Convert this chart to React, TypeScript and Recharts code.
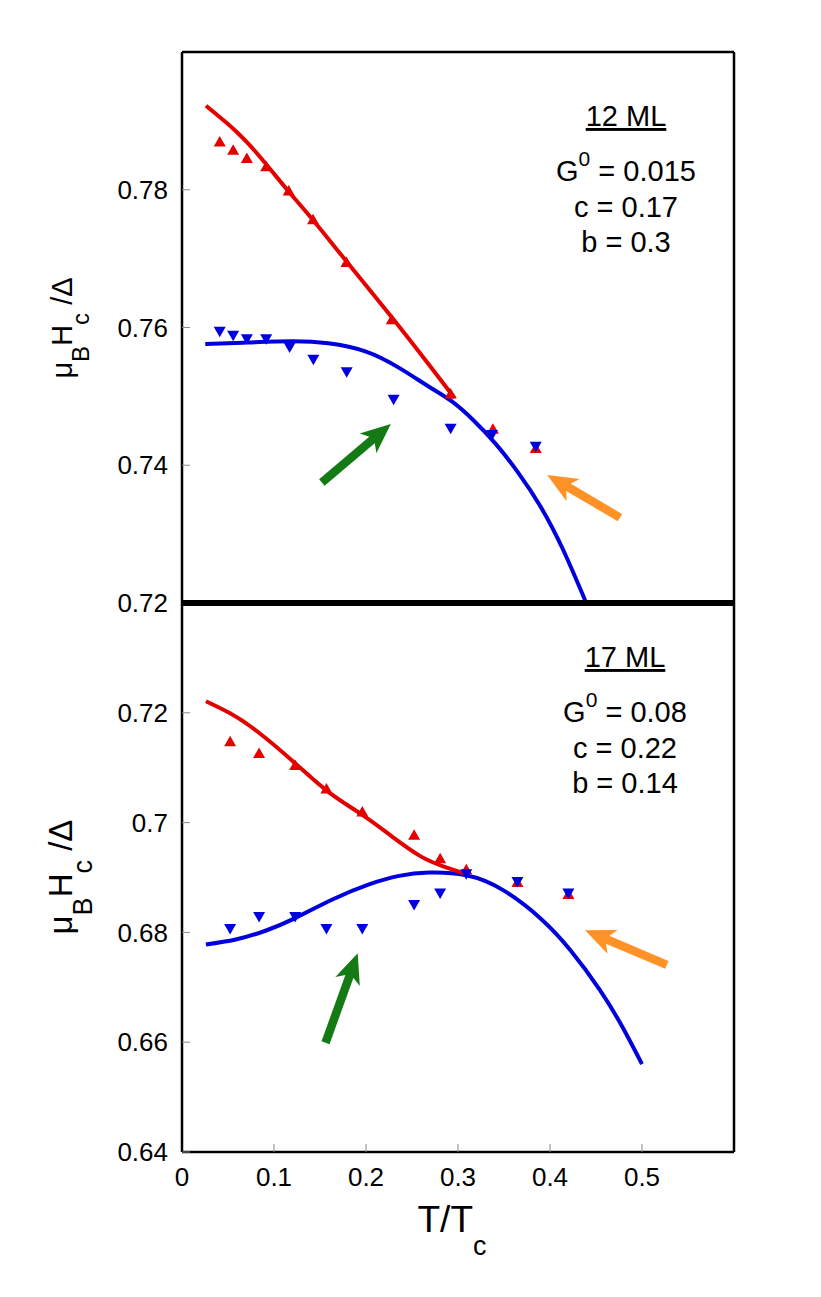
import { ComposedChart, Line, Scatter, XAxis, YAxis, ReferenceLine } from 'recharts';

const FONT = '"Liberation Sans", Arial, Helvetica, sans-serif';
const RED = '#e50000';
const BLUE = '#0000dc';
const GREEN = '#147a14';
const ORANGE = '#ff9226';

// x = T/Tc, y = muB Hc / Delta
// ---- 12 ML ----
const red12: number[][] = [
  [0.041, 0.787], [0.0556, 0.7858], [0.0705, 0.7846], [0.0915, 0.7834], [0.116, 0.7799],
  [0.1424, 0.7757], [0.1788, 0.7695], [0.228, 0.7612], [0.292, 0.7504], [0.338, 0.7453], [0.3845, 0.7425],
];
const blue12: number[][] = [
  [0.041, 0.7594], [0.0556, 0.7588], [0.0705, 0.7583], [0.0915, 0.7583], [0.117, 0.7571],
  [0.1428, 0.7553], [0.179, 0.7535], [0.23, 0.7495], [0.292, 0.7453], [0.337, 0.7444], [0.3845, 0.7427],
];
const redFit12: number[][] = [
  [0.026, 0.7922], [0.0503, 0.7895], [0.0705, 0.7869], [0.0915, 0.7837], [0.115, 0.7799],
  [0.143, 0.7755], [0.18, 0.7694], [0.228, 0.7615], [0.2685, 0.7546], [0.296, 0.7498],
];
const blueFit12: number[][] = [
  [0.0253, 0.7576], [0.0665, 0.7578], [0.119, 0.758], [0.159, 0.7577], [0.2, 0.7565],
  [0.2365, 0.7541], [0.2685, 0.7514], [0.293, 0.7493], [0.317, 0.7465], [0.341, 0.7431],
  [0.365, 0.739], [0.3897, 0.734], [0.414, 0.7278], [0.4394, 0.72],
];
// [tail t, tail y, tip t, tip y]
const arrows12 = [
  { color: GREEN, seg: [0.152, 0.7375, 0.227, 0.746] },
  { color: ORANGE, seg: [0.476, 0.7324, 0.397, 0.7386] },
];

// ---- 17 ML ----
const red17: number[][] = [
  [0.0523, 0.7148], [0.0838, 0.7127], [0.123, 0.7105], [0.157, 0.7062], [0.196, 0.702],
  [0.2523, 0.6978], [0.2806, 0.6935], [0.309, 0.6915], [0.3646, 0.6892], [0.42, 0.687],
];
const blue17: number[][] = [
  [0.0523, 0.6806], [0.0838, 0.6828], [0.123, 0.6828], [0.157, 0.6806], [0.196, 0.6806],
  [0.2523, 0.685], [0.2806, 0.6871], [0.309, 0.6906], [0.3646, 0.6892], [0.42, 0.6871],
];
const redFit17: number[][] = [
  [0.026, 0.7221], [0.0523, 0.7199], [0.0826, 0.7165], [0.123, 0.7108], [0.159, 0.7056],
  [0.196, 0.7014], [0.228, 0.6975], [0.26, 0.6938], [0.2846, 0.692], [0.309, 0.6906],
];
const blueFit17: number[][] = [
  [0.026, 0.6778], [0.0584, 0.6787], [0.0907, 0.6803], [0.123, 0.6826], [0.1634, 0.686],
  [0.204, 0.6888], [0.236, 0.6903], [0.2685, 0.6909], [0.309, 0.6904], [0.349, 0.6877],
  [0.39, 0.6825], [0.422, 0.6768], [0.4543, 0.6695], [0.4786, 0.6628], [0.5, 0.656],
];
const arrows17 = [
  { color: GREEN, seg: [0.156, 0.6599, 0.191, 0.6762] },
  { color: ORANGE, seg: [0.527, 0.6741, 0.438, 0.6804] },
];

const xTicks = [0, 0.1, 0.2, 0.3, 0.4, 0.5];
const innerXTicks = [0.1, 0.2, 0.3, 0.4, 0.5];
const yTicks12 = [0.72, 0.74, 0.76, 0.78];
const yTicks17 = [0.64, 0.66, 0.68, 0.7, 0.72];

const toPts = (rows: number[][]) => rows.map(([t, h]) => ({ t, h }));

const UpTri = (p: any) => {
  const { cx, cy } = p;
  return <polygon points={`${cx},${cy - 5.5} ${cx - 6},${cy + 5} ${cx + 6},${cy + 5}`} fill={RED} />;
};
const DownTri = (p: any) => {
  const { cx, cy } = p;
  return <polygon points={`${cx},${cy + 5.5} ${cx - 6},${cy - 5} ${cx + 6},${cy - 5}`} fill={BLUE} />;
};

// thick arrow with a notched head, drawn from tail (x1,y1) to tip (x2,y2)
const arrowShape = (color: string) => (p: any) => {
  const { x1, y1, x2, y2 } = p;
  const dx = x2 - x1;
  const dy = y2 - y1;
  const len = Math.hypot(dx, dy) || 1;
  const ux = dx / len, uy = dy / len;
  const nx = -uy, ny = ux;
  const head = 30, half = 13, notch = 8;
  const bx = x2 - ux * head, by = y2 - uy * head;
  const mx = bx + ux * notch, my = by + uy * notch;
  return (
    <g>
      <line x1={x1} y1={y1} x2={mx} y2={my} stroke={color} strokeWidth={8.5} />
      <polygon
        points={`${x2},${y2} ${bx + nx * half},${by + ny * half} ${mx},${my} ${bx - nx * half},${by - ny * half}`}
        fill={color}
      />
    </g>
  );
};

const tickLineStyle = { stroke: '#8a8a8a', strokeWidth: 1 };
const tickText = { fill: '#000', fontSize: 26, fontFamily: FONT };
const frame = { stroke: '#000', strokeWidth: 2.5 };
const divider = { stroke: '#000', strokeWidth: 6 };

interface PanelProps {
  height: number;
  topH: number;
  bottomH: number;
  marginTop: number;
  yDomain: [number, number];
  yTicks: number[];
  showXLabels: boolean;
  topLine: any;
  bottomLine: any;
  red: number[][];
  blue: number[][];
  redFit: number[][];
  blueFit: number[][];
  arrows: { color: string; seg: number[] }[];
}

const Panel = (p: PanelProps) => (
  <ComposedChart width={821} height={p.height} margin={{ top: p.marginTop, right: 0, bottom: 0, left: 0 }}>
    <XAxis
      dataKey="t"
      type="number"
      domain={[0, 0.6]}
      allowDataOverflow
      ticks={p.showXLabels ? xTicks : innerXTicks}
      height={p.bottomH}
      axisLine={p.bottomLine}
      tickLine={tickLineStyle}
      tickSize={-8}
      tickMargin={p.showXLabels ? 24 : 0}
      tick={p.showXLabels ? tickText : false}
      interval={0}
    />
    <XAxis
      xAxisId="top"
      orientation="top"
      dataKey="t"
      type="number"
      domain={[0, 0.6]}
      allowDataOverflow
      ticks={innerXTicks}
      height={p.topH}
      axisLine={p.topLine}
      tickLine={tickLineStyle}
      tickSize={-8}
      tick={false}
    />
    <YAxis
      dataKey="h"
      type="number"
      domain={p.yDomain}
      allowDataOverflow
      ticks={p.yTicks}
      width={182}
      axisLine={frame}
      tickLine={tickLineStyle}
      tickSize={-8}
      tickMargin={22}
      tick={tickText}
      interval={0}
    />
    <YAxis
      yAxisId="r"
      orientation="right"
      dataKey="h"
      type="number"
      domain={p.yDomain}
      allowDataOverflow
      ticks={p.yTicks}
      width={87}
      axisLine={frame}
      tickLine={tickLineStyle}
      tickSize={-8}
      tick={false}
    />
    <Line data={toPts(p.blueFit)} dataKey="h" type="natural" stroke={BLUE} strokeWidth={4} dot={false} isAnimationActive={false} />
    <Line data={toPts(p.redFit)} dataKey="h" type="natural" stroke={RED} strokeWidth={4} dot={false} isAnimationActive={false} />
    <Scatter data={toPts(p.red)} dataKey="h" shape={UpTri} isAnimationActive={false} />
    <Scatter data={toPts(p.blue)} dataKey="h" shape={DownTri} isAnimationActive={false} />
    {p.arrows.map((a, i) => (
      <ReferenceLine
        key={i}
        segment={[{ x: a.seg[0], y: a.seg[1] }, { x: a.seg[2], y: a.seg[3] }]}
        ifOverflow="visible"
        shape={arrowShape(a.color)}
      />
    ))}
  </ComposedChart>
);

const yTitle = (cx: number, cy: number, size: number, sub: number, shift: number) => (
  <text
    x={cx}
    y={cy}
    transform={`rotate(-90 ${cx} ${cy})`}
    textAnchor="middle"
    fontSize={size}
    fontFamily={FONT}
    fill="#000"
  >
    μ<tspan dy={shift} fontSize={sub}>B</tspan>
    <tspan dy={-shift}>H</tspan>
    <tspan dy={shift} fontSize={sub}>c</tspan>
    <tspan dy={-shift}> /Δ</tspan>
  </text>
);

const params = (x: number, y: number, title: string, g0: string, c: string, b: string) => (
  <g fontFamily={FONT} fontSize={29} fill="#000" textAnchor="middle">
    <text x={x} y={y} textDecoration="underline">{title}</text>
    <text x={x} y={y + 55}>
      G<tspan dy={-15} fontSize={21}>0</tspan>
      <tspan dy={15}> = {g0}</tspan>
    </text>
    <text x={x} y={y + 91}>c = {c}</text>
    <text x={x} y={y + 126}>b = {b}</text>
  </g>
);

export default function App() {
  return (
    <div style={{ position: 'absolute', left: 0, top: 0, width: 821, height: 1297, background: '#fff', overflow: 'hidden' }}>
      <div style={{ position: 'absolute', left: 0, top: 0 }}>
        <Panel
          height={625}
          marginTop={40}
          topH={12}
          bottomH={22}
          yDomain={[0.72, 0.8]}
          yTicks={yTicks12}
          showXLabels={false}
          topLine={frame}
          bottomLine={divider}
          red={red12}
          blue={blue12}
          redFit={redFit12}
          blueFit={blueFit12}
          arrows={arrows12}
        />
      </div>
      <div style={{ position: 'absolute', left: 0, top: 593 }}>
        <Panel
          height={704}
          marginTop={0}
          topH={10}
          bottomH={145}
          yDomain={[0.64, 0.74]}
          yTicks={yTicks17}
          showXLabels
          topLine={divider}
          bottomLine={frame}
          red={red17}
          blue={blue17}
          redFit={redFit17}
          blueFit={blueFit17}
          arrows={arrows17}
        />
      </div>
      <svg width={821} height={1297} style={{ position: 'absolute', left: 0, top: 0, pointerEvents: 'none' }}>
        {yTitle(72, 328, 29, 24, 17)}
        {yTitle(72, 877, 33, 27, 20)}
        <text x={452} y={1232} textAnchor="middle" fontSize={37} fontFamily={FONT} fill="#000">
          T/T<tspan dy={23} fontSize={27}>c</tspan>
        </text>
        {params(626, 126, '12 ML', '0.015', '0.17', '0.3')}
        {params(625, 667, '17 ML', '0.08', '0.22', '0.14')}
      </svg>
    </div>
  );
}
